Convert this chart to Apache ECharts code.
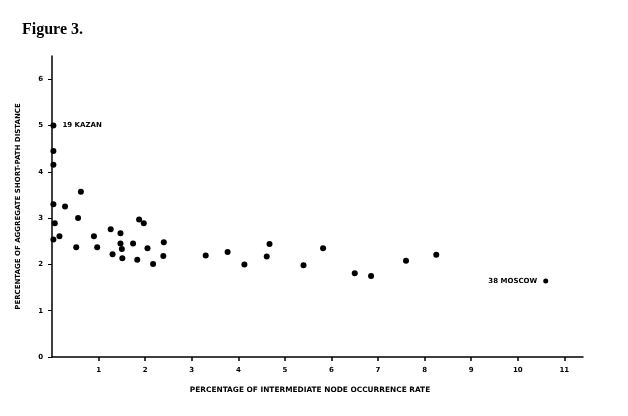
<!DOCTYPE html>
<html>
<head>
<meta charset="utf-8">
<script src="https://cdn.jsdelivr.net/npm/echarts@6/dist/echarts.min.js"></script>
<style>
html,body{margin:0;padding:0;background:#fff;}
#chart{width:628px;height:416px;}
</style>
</head>
<body>
<div id="chart"></div>
<script>
var xTicks = [1,2,3,4,5,6,7,8,9,10,11];
var yTicks = [0,1,2,3,4,5,6];
var xVals = [0.03,0.03,0.03,0.62,0.28,0.06,0.56,0.03,0.16,0.52,0.90,0.97,1.26,1.30,1.47,1.47,1.50,1.51,1.74,1.83,1.87,1.97,2.05,2.17,2.40,2.39,3.30,3.77,4.13,4.61,4.67,5.40,5.82,6.50,6.85,7.60,8.25];
var yVals = [4.45,4.15,3.30,3.57,3.25,2.89,3.00,2.54,2.61,2.37,2.61,2.37,2.76,2.22,2.67,2.45,2.33,2.13,2.45,2.10,2.97,2.89,2.35,2.01,2.48,2.18,2.19,2.27,2.00,2.17,2.44,1.98,2.35,1.81,1.75,2.08,2.21];
var kazanPoint = [0.03, 5.0];
var kazanLabel = "19 KAZAN";
var moscowPoint = [10.6, 1.64];
var moscowLabel = "38 MOSCOW";

var pts = xVals.map(function(x,i){return [x, yVals[i]];});
var small = {fontFamily:'DejaVu Sans', fontWeight:'bold', fontSize:7, color:'#000'};

var chart = echarts.init(document.getElementById('chart'), null, {renderer:'canvas'});
chart.setOption({
  animation:false,
  backgroundColor:'#fff',
  title:{text:'Figure 3.', left:17, top:17,
    textStyle:{fontFamily:'Liberation Serif', fontWeight:'bold', fontSize:16, color:'#000'}},
  grid:{left:52, right:45, top:56, bottom:59},
  xAxis:{type:'value', min:0, max:11.4,
    name:'PERCENTAGE OF INTERMEDIATE NODE OCCURRENCE RATE', nameLocation:'middle', nameGap:30,
    nameTextStyle:{fontFamily:'DejaVu Sans', fontWeight:'bold', fontSize:7.4, color:'#000', padding:[0,15,0,0]},
    axisLine:{lineStyle:{color:'#000', width:1.5}},
    axisTick:{show:true, inside:false, length:4, customValues:xTicks, lineStyle:{color:'#000', width:1.5}},
    axisLabel:Object.assign({customValues:xTicks, margin:10}, small),
    splitLine:{show:false}},
  yAxis:{type:'value', min:0, max:6.5,
    name:'PERCENTAGE OF AGGREGATE SHORT-PATH DISTANCE', nameLocation:'middle', nameGap:30, nameRotate:90,
    nameTextStyle:{fontFamily:'DejaVu Sans', fontWeight:'bold', fontSize:7, color:'#000'},
    axisLine:{show:true, lineStyle:{color:'#000', width:1.5}},
    axisTick:{show:true, length:4, customValues:yTicks, lineStyle:{color:'#000', width:1}},
    axisLabel:Object.assign({customValues:yTicks, margin:9}, small),
    splitLine:{show:false}},
  series:[
    {type:'scatter', data:pts, symbol:'circle', symbolSize:6, itemStyle:{color:'#000', opacity:1}},
    {type:'scatter', data:[kazanPoint], symbol:'circle', symbolSize:6, itemStyle:{color:'#000', opacity:1},
      label:Object.assign({show:true, position:'right', distance:6, formatter:kazanLabel}, small)},
    {type:'scatter', data:[moscowPoint], symbol:'circle', symbolSize:5, itemStyle:{color:'#000', opacity:1},
      label:Object.assign({show:true, position:'left', distance:6, formatter:moscowLabel}, small)}
  ]
});
</script>
</body>
</html>
